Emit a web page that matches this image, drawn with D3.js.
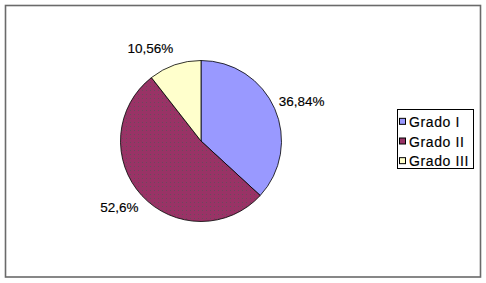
<!DOCTYPE html>
<html><head><meta charset="utf-8">
<script src="https://cdn.jsdelivr.net/npm/d3@7"></script>
<style>body{margin:0;background:#fff}svg{display:block}</style>
</head><body>
<svg id="c" width="486" height="283"></svg>
<script>
const categories = ["Grado I", "Grado II", "Grado III"];
const values = [36.84, 52.6, 10.56];
const labels = ["36,84%", "52,6%", "10,56%"];
const colors = ["#9999FF", "#993366", "#FFFFCC"];

const svg = d3.select("#c");
const defs = svg.append("defs");
const pat = defs.append("pattern").attr("id","dots").attr("patternUnits","userSpaceOnUse")
  .attr("width",4).attr("height",4);
pat.append("rect").attr("width",4).attr("height",4).attr("fill","#993366");
pat.append("rect").attr("x",1).attr("y",1).attr("width",1).attr("height",1).attr("fill","#4d5a55").attr("opacity",0.6);

svg.append("rect").attr("x",5.5).attr("y",5.5).attr("width",475).attr("height",271.5)
  .attr("fill","#fff").attr("stroke","#6a6a6a").attr("stroke-width",1.6);

const cx = 201, cy = 141, r = 80.5;
const pie = d3.pie().sort(null).value(d => d)(values);
const arc = d3.arc().innerRadius(0).outerRadius(r);
const g = svg.append("g").attr("transform", `translate(${cx},${cy})`);
g.selectAll("path").data(pie).join("path")
  .attr("d", arc)
  .attr("fill", (d,i) => i === 1 ? "url(#dots)" : colors[i])
  .attr("stroke", "#000").attr("stroke-width", 0.8);

const font = "'Liberation Sans', Arial, sans-serif";
g.selectAll("text").data(pie).join("text")
  .each(function(d,i){
    const a = (d.startAngle + d.endAngle)/2;
    const s = Math.sin(a), c = Math.cos(a);
    const x = s*85, y = -c*90 - c*8;
    d3.select(this).attr("x", x).attr("y", y).attr("dy","0.35em")
      .attr("text-anchor", s >= 0 ? "start" : "end");
  })
  .attr("font-family", font).attr("font-size", 13.5).attr("fill","#000")
  .attr("stroke","#000").attr("stroke-width",0.15)
  .text((d,i) => labels[i]);

// legend
const lx = 397, ly = 109, lw = 76, lh = 59;
const lg = svg.append("g");
lg.append("rect").attr("x",lx+0.5).attr("y",ly+0.5).attr("width",lw).attr("height",lh)
  .attr("fill","#fff").attr("stroke","#000").attr("stroke-width",1);
const rows = d3.scaleBand().domain(categories).range([ly+3, ly+lh+3]).padding(0);
const items = lg.selectAll("g.item").data(categories).join("g").attr("class","item")
  .attr("transform", d => `translate(0,${rows(d)+rows.bandwidth()/2})`);
items.append("rect").attr("x", lx+2.5).attr("y", -3.5).attr("width",6).attr("height",6)
  .attr("fill",(d,i)=>colors[i]).attr("stroke","#000").attr("stroke-width",1);
items.append("text").attr("x", lx+12).attr("y", 0).attr("dy","0.36em")
  .attr("font-family", font).attr("font-size", 14).attr("letter-spacing", 0.6)
  .attr("stroke","#000").attr("stroke-width",0.15)
  .text(d => d);
</script>
</body></html>
